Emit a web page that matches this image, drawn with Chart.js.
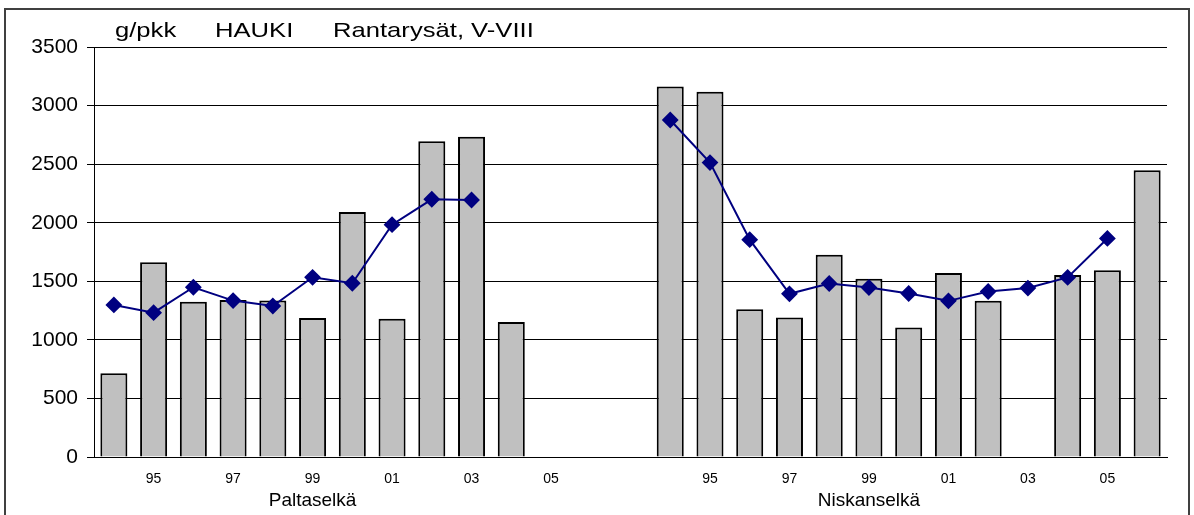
<!DOCTYPE html>
<html>
<head>
<meta charset="utf-8">
<script src="https://cdn.jsdelivr.net/npm/chart.js@4.4.0/dist/chart.umd.min.js"></script>
<style>
  body { margin: 0; background: #fff; }
  #wrap { position: relative; width: 1194px; height: 515px; }
  #frame { position: absolute; left: 4px; top: 8px; width: 1182px; height: 520px; border: 2px solid #404040; pointer-events: none; }
</style>
</head>
<body>
<div id="wrap">
  <canvas id="chart"></canvas>
  <div id="frame"></div>
</div>
<script>
// years for each lake, blank slot between the two groups
const categories = ['94','95','96','97','98','99','00','01','02','03','04','05','06','',
                    '94','95','96','97','98','99','00','01','02','03','04','05','06'];
const shownYears = ['95','97','99','01','03','05'];
const groups = ['Paltaselkä', 'Niskanselkä'];
const groupLabelIndex = [5, 19];

// g/pkk per year (bars) and the running average (line)
const barValues = [715, 1662, 1326, 1340, 1335, 1187, 2091, 1181, 2695, 2734, 1152, null, null, null,
                   3162, 3117, 1262, 1191, 1726, 1521, 1105, 1570, 1333, null, 1553, 1595, 2447];
const lineValues = [1298, 1232, 1449, 1335, 1289, 1534, 1483, 1983, 2200, 2194, null, null, null, null,
                    2877, 2513, 1855, 1393, 1481, 1447, 1396, 1333, 1413, 1442, 1533, 1866, null];

const yTicks = [0, 500, 1000, 1500, 2000, 2500, 3000, 3500];
const titleParts = ['g/pkk', 'HAUKI', 'Rantarysät, V-VIII'];

const groupLabels = categories.map((c, i) => {
  const g = groupLabelIndex.indexOf(i);
  return g >= 0 ? groups[g] : '';
});

const FONT = "'Liberation Sans', Arial, sans-serif";

// title text is a bit stretched sideways in the original
const titlePlugin = {
  id: 'titleText',
  afterDraw(chart) {
    const ctx = chart.ctx;
    const left = chart.chartArea.left;
    const offsets = [21, 121, 239];
    ctx.save();
    ctx.fillStyle = '#000';
    ctx.font = '21px ' + FONT;
    ctx.textBaseline = 'middle';
    titleParts.forEach((t, i) => {
      ctx.save();
      ctx.translate(left + offsets[i], 31);
      ctx.scale(1.22, 1);
      ctx.fillText(t, 0, 0);
      ctx.restore();
    });
    ctx.restore();
  }
};

new Chart(document.getElementById('chart'), {
  data: {
    labels: categories,
    datasets: [
      {
        type: 'line',
        data: lineValues,
        borderColor: '#000080',
        backgroundColor: '#000080',
        borderWidth: 2,
        pointStyle: 'rectRot',
        pointRadius: 7,
        tension: 0,
        order: 0
      },
      {
        type: 'bar',
        data: barValues,
        backgroundColor: '#c0c0c0',
        borderColor: '#000',
        borderWidth: 2,
        categoryPercentage: 1,
        barPercentage: 0.68,
        order: 1
      }
    ]
  },
  options: {
    responsive: true,
    maintainAspectRatio: false,
    animation: false,
    layout: { padding: { left: 0, right: 27, top: 47, bottom: 0 } },
    plugins: { legend: { display: false }, tooltip: { enabled: false }, title: { display: false } },
    scales: {
      y: {
        min: 0,
        max: 3500,
        afterBuildTicks: (s) => { s.ticks = yTicks.map(v => ({ value: v })); },
        afterFit: (s) => { s.width = 94; },
        grid: { color: '#000', lineWidth: 1, tickLength: 7 },
        border: { color: '#000', width: 1 },
        ticks: {
          color: '#000',
          padding: 9,
          font: { family: FONT, size: 21 },
          callback: (v) => String(v)
        }
      },
      x: {
        weight: 1,
        offset: true,
        afterFit: (s) => { s.height = 31; },
        grid: { display: false, drawTicks: false },
        border: { color: '#000', width: 1 },
        ticks: {
          color: '#000',
          autoSkip: false,
          maxRotation: 0,
          padding: 14,
          font: { family: FONT, size: 14 },
          callback: function (v, i) {
            const lab = categories[i];
            return shownYears.includes(lab) ? lab : '';
          }
        }
      },
      group: {
        type: 'category',
        position: 'bottom',
        weight: 2,
        offset: true,
        labels: groupLabels,
        afterFit: (s) => { s.height = 27; },
        grid: { display: false, drawTicks: false },
        border: { display: false },
        ticks: { color: '#000', autoSkip: false, maxRotation: 0, padding: 1, font: { family: FONT, size: 19 } }
      }
    }
  },
  plugins: [titlePlugin]
});
</script>
</body>
</html>
